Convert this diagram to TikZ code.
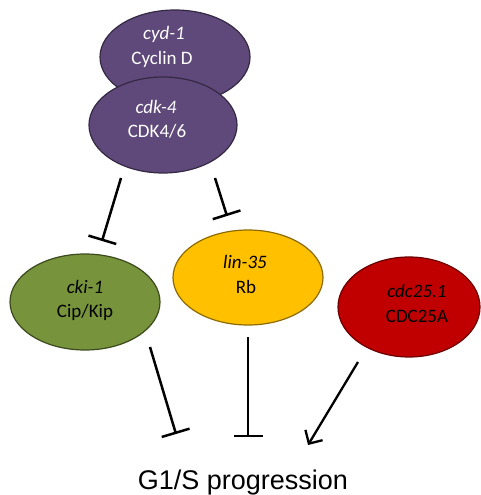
\documentclass[tikz,border=0pt]{standalone}
\usepackage{fontspec}
\setmainfont{Carlito}
\newfontfamily\labelfont{Liberation Sans}
\usetikzlibrary{shapes.geometric,arrows.meta}

\definecolor{cyclinpurple}{HTML}{5F497A}
\definecolor{kipgreen}{HTML}{77933C}
\definecolor{rbyellow}{HTML}{FFC000}
\definecolor{cdcred}{HTML}{C00000}

\tikzset{
  blob/.style={ellipse, inner sep=0pt, line width=1.2pt},
  gene/.style={anchor=base, inner sep=0pt, font=\fontsize{19}{24}\selectfont\itshape},
  prot/.style={anchor=base, inner sep=0pt, font=\fontsize{19}{24}\selectfont},
  inhibit/.style={line width=2.5pt, -{Bar[width=29pt, line width=2.5pt]}},
  promote/.style={line width=2.3pt, -{Straight Barb[length=10pt, width=20pt, line width=2.3pt]}},
}

\begin{document}
\begin{tikzpicture}[x=1pt, y=-1pt]
  \useasboundingbox (0,0) rectangle (480,495);

  % Cyclin D / CDK4/6 complex
  \node[blob, fill=cyclinpurple, draw=cyclinpurple!55!black,
        minimum width=150pt, minimum height=94pt] (cyd) at (175,57) {};
  \node[gene, text=white] (cydg) at (164,40) {cyd-1};
  \node[prot, text=white] (cydp) at (162,64) {Cyclin D};

  \node[blob, fill=cyclinpurple, draw=cyclinpurple!55!black,
        minimum width=148pt, minimum height=96pt] (cdk) at (163,125) {};
  \node[gene, text=white] (cdkg) at (156,113) {cdk-4};
  \node[prot, text=white] (cdkp) at (157,137) {CDK4/6};

  % Downstream regulators
  \node[blob, fill=kipgreen, draw=kipgreen!50!black,
        minimum width=150pt, minimum height=96pt] (cki) at (85,302) {};
  \node[gene] (ckig) at (85,293) {cki-1};
  \node[prot] (ckip) at (85,317) {Cip/Kip};

  \node[blob, fill=rbyellow, draw=rbyellow!55!black,
        minimum width=150pt, minimum height=95pt] (lin) at (248,277.5) {};
  \node[gene] (ling) at (245,268) {lin-35};
  \node[prot] (linp) at (246,293) {Rb};

  \node[blob, fill=cdcred, draw=cdcred!55!black,
        minimum width=142pt, minimum height=100pt] (cdc) at (409,307) {};
  \node[gene] (cdcg) at (417,297) {cdc25.1};
  \node[prot] (cdcp) at (417,322) {CDC25A};

  % Outcome
  \node[anchor=base, inner sep=0pt, font=\labelfont\fontsize{27}{32}\selectfont]
        (gs) at (243,489) {G1/S progression};

  % Connector end points
  \coordinate (cdkA) at (121,178);
  \coordinate (ckiT) at (102,241);
  \coordinate (cdkB) at (215,178);
  \coordinate (linT) at (227,216);
  \coordinate (ckiA) at (150,347);
  \coordinate (gsA)  at (176,434);
  \coordinate (linA) at (248,337);
  \coordinate (gsB)  at (248,437);
  \coordinate (cdcA) at (358,362);
  \coordinate (gsC)  at (308,445);

  \draw[inhibit] (cdkA) -- (ckiT);
  \draw[inhibit] (cdkB) -- (linT);
  \draw[inhibit] (ckiA) -- (gsA);
  \draw[inhibit] (linA) -- (gsB);
  \draw[promote] (cdcA) -- (gsC);
\end{tikzpicture}
\end{document}
